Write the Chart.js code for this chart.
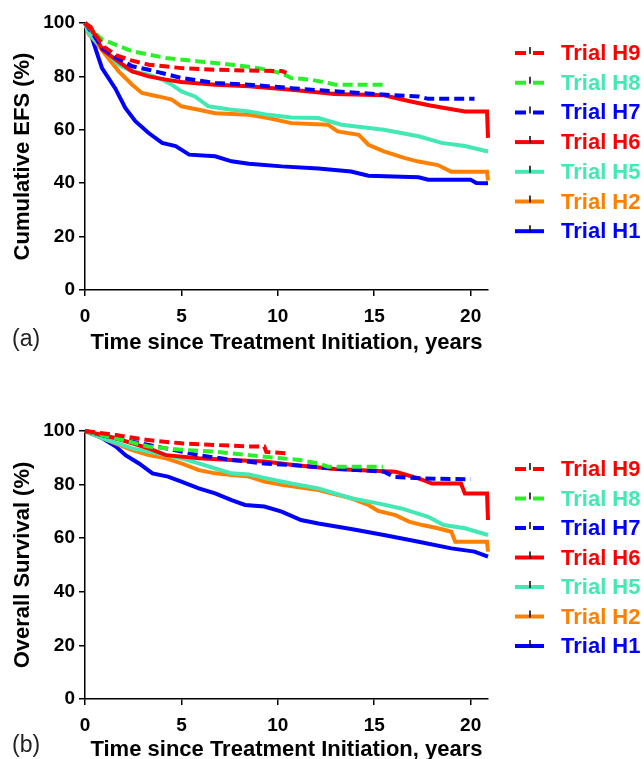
<!DOCTYPE html>
<html>
<head>
<meta charset="utf-8">
<script src="https://cdn.jsdelivr.net/npm/chart.js@4.4.1/dist/chart.umd.min.js"></script>
<style>
    html, body { margin: 0; padding: 0; background: #fff; overflow: hidden; width: 644px; height: 759px; }
    canvas { position: absolute; left: 0; }
    #chart-efs { top: 0; }
    #chart-os { top: 380px; }
</style>
</head>
<body>
<canvas id="chart-efs" width="644" height="380"></canvas>
<canvas id="chart-os" width="644" height="400"></canvas>
<script>
// legend order, top to bottom
const trialNames = ['Trial H9', 'Trial H8', 'Trial H7', 'Trial H6', 'Trial H5', 'Trial H2', 'Trial H1'];
const lineColors = ['#FF0000', '#2AF02A', '#0000FF', '#FF0000', '#44E8B4', '#FF8000', '#0000FF'];
const textColors = ['#FF0000', '#44E8B4', '#0000FF', '#FF0000', '#44E8B4', '#FF8000', '#0000FF'];
const dashedLines = [true, true, true, false, false, false, false];

const xTicks = [0, 5, 10, 15, 20];
const yTicks = [0, 20, 40, 60, 80, 100];

// (a) cumulative EFS, [years, %]
const efsH9 = [[0, 100], [0.4, 97], [1.0, 91], [1.6, 88], [2.4, 86], [3.3, 84.4], [5.0, 83.1], [6.75, 82.5], [8.5, 82.2], [10.2, 82], [10.45, 81.3]];
const efsH8 = [[0, 100], [0.3, 97.5], [0.9, 93.8], [2.45, 89.4], [4.2, 86.9], [5.9, 85.6], [7.6, 84.4], [9.0, 83.1], [10.2, 81.2], [10.7, 79.4], [11.7, 78.8], [12.6, 77.5], [13.0, 76.9], [15.7, 76.9]];
const efsH7 = [[0, 100], [0.3, 97], [0.9, 90.6], [1.6, 87.1], [2.45, 83.8], [3.3, 82.5], [5.0, 79.4], [6.75, 77.5], [8.5, 76.9], [10.7, 75.6], [12.95, 74.4], [16.05, 72.9], [17.3, 72.5], [17.8, 71.6], [20.2, 71.6]];
const efsH6 = [[0, 100], [0.3, 98.5], [0.9, 90], [1.6, 86.3], [2.45, 81.9], [3.3, 80], [4.2, 78.8], [5.0, 77.9], [6.75, 76.9], [8.5, 76.3], [10.7, 75], [12.95, 73.4], [15.5, 72.9], [16.9, 70.6], [17.9, 69.1], [19.7, 66.9], [20.85, 66.9], [20.9, 57]];
const efsH5 = [[0, 100], [0.2, 96], [0.9, 90.6], [1.75, 84.3], [2.45, 81.9], [3.3, 80.6], [4.0, 78.8], [4.5, 76.9], [5.0, 74.4], [5.7, 72.5], [6.4, 68.8], [7.6, 67.5], [8.5, 66.9], [9.5, 65.6], [10.7, 64.6], [12.1, 64.4], [13.3, 61.9], [15.5, 60.0], [17.3, 57.6], [18.5, 55.1], [19.7, 53.9], [20.9, 51.9]];
const efsH2 = [[0, 100], [0.2, 95.7], [0.55, 93], [1.2, 86.9], [1.75, 81.9], [2.45, 76.9], [2.95, 73.8], [3.8, 72.5], [4.5, 71.3], [5.0, 68.8], [5.9, 67.5], [6.75, 66.2], [8.5, 65.6], [9.5, 64.4], [10.7, 62.5], [12.6, 61.9], [13.1, 59.4], [14.2, 58.1], [14.7, 54.4], [15.5, 51.9], [16.6, 49.4], [17.3, 48.1], [18.3, 46.8], [19.0, 44.3], [20.85, 44.3], [20.9, 41]];
const efsH1 = [[0, 100], [0.36, 94.4], [0.88, 83.1], [1.57, 75.5], [2.09, 68.2], [2.61, 63.2], [3.3, 58.8], [4.0, 55.1], [4.7, 53.9], [5.4, 50.7], [6.75, 50.1], [7.6, 48.2], [8.5, 47.3], [10.2, 46.3], [12.1, 45.5], [13.8, 44.4], [14.7, 42.8], [17.3, 42.2], [17.8, 41.3], [20.0, 41.3], [20.3, 40.1], [20.9, 40.0]];

// (b) overall survival, [years, %]
const osH9 = [[0, 100], [1.6, 98.5], [3.3, 96.6], [5.0, 95.4], [6.75, 94.8], [8.5, 94.2], [9.3, 94.2], [9.4, 92.2], [10.45, 91.7]];
const osH8 = [[0, 100], [1.6, 97.3], [3.3, 94.2], [5.0, 93], [6.75, 92.3], [8.5, 91], [10.2, 89.8], [11.1, 89.2], [12.1, 87.9], [12.6, 86.7], [15.45, 86.7]];
const osH7 = [[0, 100], [1.6, 97.3], [3.3, 94.8], [5.0, 92.3], [5.9, 91], [7.6, 89.2], [9.3, 87.9], [10.7, 87.3], [12.95, 86], [15.5, 84.8], [16.05, 82.9], [17.6, 82.3], [20.0, 82]];
const osH6 = [[0, 100], [1.6, 97.3], [3.3, 93.5], [4.2, 91], [5.9, 89.8], [7.6, 89.2], [9.3, 88.6], [10.7, 87.4], [12.95, 85.8], [16.1, 84.8], [17.3, 82.3], [18.0, 80.4], [19.5, 80.4], [19.7, 76.7], [20.85, 76.7], [20.9, 66.8]];
const osH5 = [[0, 100], [0.9, 97.3], [2.45, 93.5], [4.2, 91], [5.0, 89.8], [5.9, 87.9], [6.75, 86], [7.6, 84.2], [8.5, 83.8], [9.3, 82.5], [10.7, 80.4], [12.1, 78.6], [13.8, 74.9], [15.2, 73], [16.4, 71.1], [17.8, 68], [18.6, 64.9], [19.7, 63.7], [20.9, 61.2]];
const osH2 = [[0, 100], [0.9, 97.3], [2.45, 92.9], [3.3, 91], [4.2, 89.8], [5.0, 87.9], [5.9, 85.4], [6.75, 84.2], [7.6, 83.6], [8.5, 83], [9.3, 81.1], [10.2, 79.9], [12.1, 78], [13.8, 74.9], [14.7, 72.4], [15.2, 70.2], [16.1, 68.6], [16.8, 66.2], [17.5, 64.9], [18.3, 63.7], [19.0, 62.4], [19.2, 58.7], [20.85, 58.7], [20.9, 55]];
const osH1 = [[0, 100], [0.9, 97.3], [1.6, 94.2], [2.1, 91], [2.8, 87.9], [3.5, 84.2], [4.3, 83], [5.0, 81.1], [5.9, 78.6], [6.75, 76.7], [7.6, 74.2], [8.3, 72.4], [9.3, 71.8], [10.2, 69.9], [11.2, 66.8], [12.1, 65.5], [13.8, 63.4], [15.5, 61.2], [17.3, 58.7], [19.0, 56.2], [20.2, 55.0], [20.9, 53.1]];

const FONT = "'Liberation Sans', Arial, Helvetica, sans-serif";

// draws the right-hand key and the panel letter
const kmKeyPlugin = {
    id: 'kmKey',
    afterDraw(chart, args, opts) {
        const ctx = chart.ctx;
        ctx.save();
        trialNames.forEach((name, i) => {
            const y = opts.top + i * opts.step;
            ctx.strokeStyle = lineColors[i];
            ctx.lineWidth = 4;
            ctx.beginPath();
            if (dashedLines[i]) {
                ctx.moveTo(515, y); ctx.lineTo(526, y);
                ctx.moveTo(533, y); ctx.lineTo(544, y);
            } else {
                ctx.moveTo(515, y); ctx.lineTo(544, y);
            }
            ctx.stroke();
            ctx.strokeStyle = '#000';
            ctx.lineWidth = 1.5;
            ctx.beginPath();
            ctx.moveTo(530, y - 6); ctx.lineTo(530, y + 1);
            ctx.stroke();
            ctx.fillStyle = textColors[i];
            ctx.font = `bold 22px ${FONT}`;
            ctx.textBaseline = 'middle';
            ctx.textAlign = 'left';
            ctx.fillText(name, 561, y + 1);
        });
        ctx.fillStyle = '#222';
        ctx.font = `23px ${FONT}`;
        ctx.textBaseline = 'middle';
        ctx.fillText(opts.letter, 12, opts.letterY);
        ctx.restore();
    },
};

function createKmChart(canvasId, series, yTitle, cfg) {
    const canvas = document.getElementById(canvasId);
    if (!canvas) return null;
    const datasets = series.map((pts, i) => ({
        label: trialNames[i],
        data: pts.map(p => ({ x: p[0], y: p[1] })),
        borderColor: lineColors[i],
        borderWidth: 4,
        borderDash: dashedLines[i] ? [10, 5] : [],
        pointRadius: 0,
        fill: false,
        tension: 0,
        clip: false,
    }));

    return new Chart(canvas.getContext('2d'), {
        type: 'line',
        data: { datasets },
        plugins: [kmKeyPlugin],
        options: {
            responsive: false,
            animation: false,
            layout: { padding: { top: cfg.areaTop, right: 156, bottom: 0, left: 0 } },
            plugins: {
                legend: { display: false },
                tooltip: { enabled: false },
                kmKey: { top: cfg.keyTop, step: cfg.keyStep, letter: cfg.letter, letterY: cfg.letterY },
            },
            scales: {
                x: {
                    type: 'linear',
                    min: 0,
                    max: 20.9,
                    afterBuildTicks: s => { s.ticks = xTicks.map(v => ({ value: v })); },
                    afterFit: s => { s.height = cfg.xHeight; },
                    border: { display: true, color: '#000', width: 1.5 },
                    grid: { display: true, drawOnChartArea: false, drawTicks: true, tickLength: 6, color: '#000', lineWidth: 1.5 },
                    ticks: { color: '#000', font: { family: FONT, size: 19, weight: 'bold' }, padding: 9, maxRotation: 0 },
                    title: {
                        display: true,
                        text: 'Time since Treatment Initiation, years',
                        color: '#000',
                        font: { family: FONT, size: 22, weight: 'bold' },
                        padding: { top: 0, bottom: cfg.xTitlePad },
                    },
                },
                y: {
                    min: 0,
                    max: 100,
                    afterBuildTicks: s => { s.ticks = yTicks.map(v => ({ value: v })); },
                    afterFit: s => { s.width = 85; },
                    border: { display: true, color: '#000', width: 1.5 },
                    grid: { display: true, drawOnChartArea: false, drawTicks: true, tickLength: 6, color: '#000', lineWidth: 1.5 },
                    ticks: { color: '#000', font: { family: FONT, size: 19, weight: 'bold' }, padding: 4 },
                    title: {
                        display: true,
                        text: yTitle,
                        color: '#000',
                        font: { family: FONT, size: 22, weight: 'bold' },
                        padding: { top: 10, bottom: 0 },
                    },
                },
            },
        },
    });
}

const efsSeries = [efsH9, efsH8, efsH7, efsH6, efsH5, efsH2, efsH1];
const osSeries = [osH9, osH8, osH7, osH6, osH5, osH2, osH1];

createKmChart('chart-efs', efsSeries, 'Cumulative EFS (%)', {
    areaTop: 23, xHeight: 90, xTitlePad: 24, keyTop: 53, keyStep: 29.7, letter: '(a)', letterY: 340,
});
createKmChart('chart-os', osSeries, 'Overall Survival (%)', {
    areaTop: 51, xHeight: 81, xTitlePad: 17, keyTop: 89, keyStep: 29.5, letter: '(b)', letterY: 366,
});
</script>
</body>
</html>
